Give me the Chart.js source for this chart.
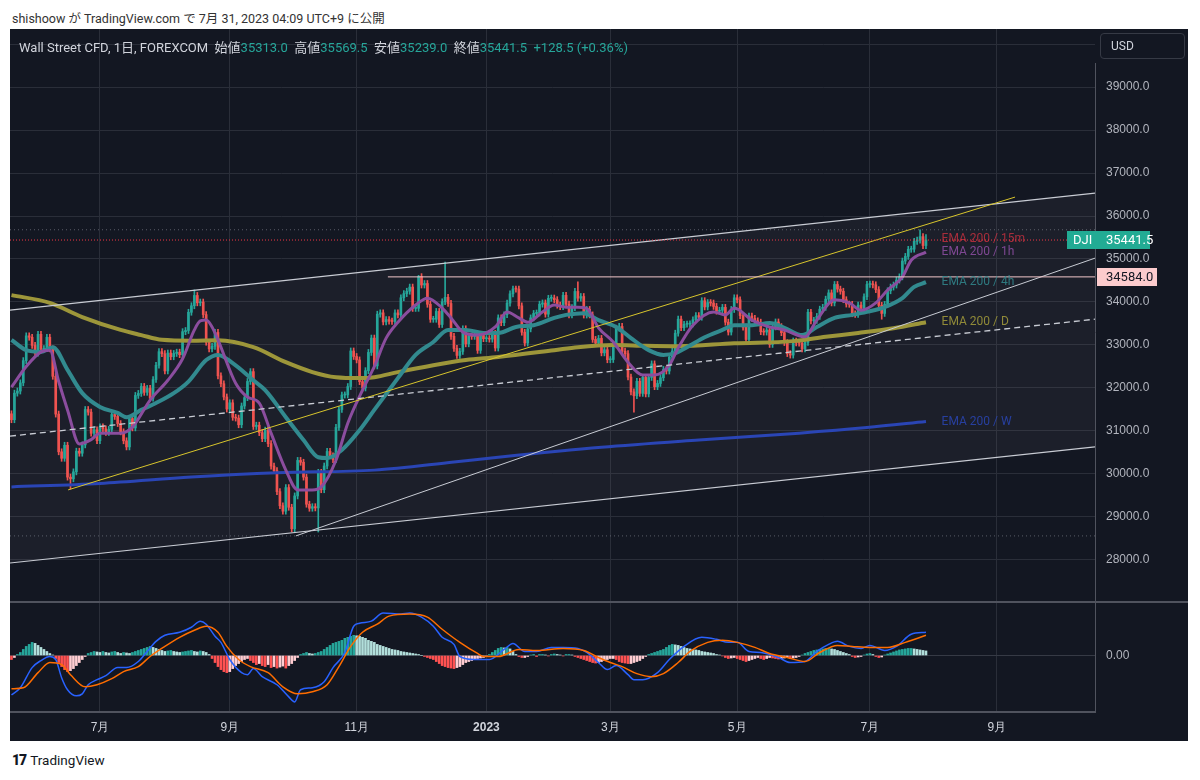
<!DOCTYPE html>
<html>
<head>
<meta charset="utf-8">
<script src="https://cdn.jsdelivr.net/npm/chart.js@4.4.0/dist/chart.umd.min.js"></script>
<style>
  html, body { margin: 0; padding: 0; background: #fff; width: 1200px; height: 780px; overflow: hidden;
    font-family: Roboto, "Noto Sans CJK JP", sans-serif; }
  #pub { position: absolute; left: 12px; top: 8px; font-size: 12.5px; color: #333; }
  #panel { position: absolute; left: 10px; top: 29px; width: 1178px; height: 712px; background: #131722; }
  #main { position: absolute; left: 0; top: 0; }
  #macd { position: absolute; left: 0; top: 573px; }
  #sep { position: absolute; left: 0; top: 572px; width: 1178px; height: 2px; background: #50535e; }
  #hdr { position: absolute; left: 9px; top: 8px; font-size: 13px; color: #d1d4dc; white-space: pre; }
  #hdr .v { color: #26a69a; }
  #usd { position: absolute; left: 1090px; top: 4px; width: 83px; height: 24px; border: 1px solid #363a45;
    border-radius: 4px; color: #d1d4dc; font-size: 12px; line-height: 24px; text-indent: 10px; }
  #foot { position: absolute; left: 12px; top: 752px; font-size: 13.5px; color: #131722; }
  #foot b { font-weight: 900; font-size: 14px; letter-spacing: -1px; margin-right: 4px; }
</style>
</head>
<body>
<div id="pub">shishoow が TradingView.com で 7月 31, 2023 04:09 UTC+9 に公開</div>
<div id="panel">
  <canvas id="main" width="1178" height="573"></canvas>
  <canvas id="macd" width="1178" height="139"></canvas>
  <div id="sep"></div>
  <div id="hdr"></div>
  <div id="usd">USD</div>
</div>
<div id="foot"><b>17</b>TradingView</div>
<script>
// ===== Datos =====
const monthTicks = [30, 74, 117, 161, 203, 246, 291, 334];
const monthLabels = ['7月', '9月', '11月', '2023', '3月', '5月', '7月', '9月'];
const priceTicks = [28000, 29000, 30000, 31000, 32000, 33000, 34000, 35000, 36000, 37000, 38000, 39000, 40000];

// cierres diarios (CFD), mayo 2022 -> julio 2023
const closesMay22 = [31262, 31880, 31929, 32120, 32637, 33213, 33180, 32990];
const closesJun22 = [32813, 33248, 32900, 32916, 33180, 32910, 32272, 31393, 30516, 30365, 30668, 29927, 29888, 30050, 30530, 30483, 30677, 31500, 31438, 30947, 31029, 30775];
const closesJul22 = [31097, 31050, 30967, 31037, 31384, 31338, 31173, 30981, 30772, 30630, 31288, 31072, 31827, 31874, 32036, 31899, 31990, 31762, 32197, 32529, 32845];
const closesAug22 = [32798, 32397, 32813, 32727, 32803, 32833, 32775, 33310, 33337, 33761, 33913, 34152, 33981, 33999, 33707, 33064, 32910, 32970, 33292, 32283, 32099, 31791, 31510];
const closesSep22 = [31656, 31318, 31300, 31145, 31581, 31775, 32152, 32381, 31105, 31135, 30962, 30822, 31020, 30706, 30184, 30077, 29590, 29261, 29135, 29684, 29226, 28726];
const closesOct22 = [29490, 30316, 30273, 29927, 29297, 29203, 29240, 29211, 30039, 29634, 30186, 30524, 30424, 30334, 31083, 31500, 31837, 31839, 32034, 32861, 32733];
const closesNov22 = [32653, 32148, 32001, 32403, 32827, 33161, 32514, 33716, 33748, 33537, 33593, 33554, 33547, 33746, 33700, 34098, 34195, 34250, 34347, 33850, 33853, 34590];
const closesDec22 = [34395, 34430, 33947, 33597, 33598, 33781, 33477, 34005, 34108, 33966, 33202, 32920, 32757, 32850, 33377, 33027, 33204, 33200, 33241, 32875, 33221, 33147];
const closesJan23 = [33150, 33136, 33270, 32930, 33631, 33518, 33704, 33974, 34190, 34303, 34300, 33910, 33297, 33045, 33375, 33630, 33734, 33744, 33949, 33978, 33717, 34086];
const closesFeb23 = [34092, 34054, 33926, 33891, 34156, 33949, 33699, 33869, 34246, 34089, 34128, 33697, 33827, 33700, 33130, 33045, 33154, 32817, 32889, 32657];
const closesMar23 = [32662, 33004, 33391, 33431, 32856, 32798, 32255, 31910, 31819, 32155, 31875, 32247, 31862, 32245, 32561, 32031, 32106, 32238, 32432, 32395, 32718, 32860, 33274];
const closesApr23 = [33601, 33402, 33482, 33485, 33490, 33587, 33684, 33646, 34030, 33886, 33987, 33976, 33897, 33786, 33808, 33875, 33531, 33301, 33826, 34098];
const closesMay23 = [34051, 33684, 33414, 33128, 33674, 33619, 33562, 33531, 33310, 33300, 33349, 33013, 33420, 33536, 33427, 33287, 33056, 32800, 32765, 33093, 33050, 33043, 32908];
const closesJun23 = [33061, 33762, 33562, 33573, 33665, 33833, 33876, 34066, 34212, 33979, 34408, 34299, 34250, 34053, 33952, 33946, 33727, 33714, 33927, 33852, 34122, 34408];
const closesJul23 = [34418, 34400, 34288, 33922, 33734, 33944, 34261, 34347, 34395, 34509, 34585, 34952, 35061, 35225, 35228, 35411, 35438, 35520, 35313.0, 35441.5];
const firstOpen = 31400;
// mechas destacadas [indice, maximo, minimo]
const wickSpikes = [[20, null, 29650], [62, 34280, null], [104, null, 28650], [138, 34620, null], [147, 34930, null],
  [192, 34470, null], [211, null, 31440], [295, null, 33600], [308, 35680, null], [310, 35569.5, 35239.0]];

// EMA 200 en varios marcos [indice, valor]
const ema1h = [[0,32020],[5,32500],[10,32840],[13,32880],[16,32150],[19,31490],[23,30700],[27,30800],[30,30950],[37,30950],[41,31090],[47,31720],[53,32180],[58,32680],[62,33350],[64,33560],[66,33580],[68,33420],[70,33120],[76,32110],[80,31790],[84,31650],[88,30950],[93,30090],[97,29630],[102,29630],[105,29700],[110,30320],[114,31180],[119,31950],[123,32500],[127,33160],[131,33530],[137,33930],[141,34090],[146,33860],[149,33630],[153,33300],[158,33230],[164,33420],[168,33770],[172,33630],[175,33530],[180,33770],[184,33930],[188,33880],[192,33880],[195,33850],[199,33400],[204,33070],[209,32600],[214,32300],[218,32300],[223,32530],[226,32930],[231,33460],[238,33770],[242,33700],[245,33860],[251,33580],[257,33420],[262,33350],[269,33190],[273,33580],[279,34050],[284,33980],[288,33810],[293,33980],[297,34280],[302,34580],[305,34970],[310,35160]];
const ema4h = [[0,33120],[5,32880],[10,32840],[14,32950],[19,32420],[24,31880],[30,31560],[36,31420],[39,31320],[44,31490],[49,31650],[55,31880],[60,32150],[66,32650],[70,32770],[75,32580],[82,32180],[86,31950],[93,31320],[99,30790],[104,30390],[107,30370],[112,30560],[118,31020],[123,31490],[131,32230],[137,32770],[143,33070],[148,33350],[154,33350],[160,33280],[165,33280],[171,33420],[177,33460],[184,33630],[188,33700],[194,33740],[199,33580],[205,33420],[210,33160],[216,32880],[221,32770],[225,32810],[229,32950],[235,33180],[241,33350],[245,33460],[251,33460],[257,33510],[262,33400],[268,33230],[273,33420],[279,33630],[285,33700],[290,33770],[296,33880],[302,34090],[306,34350],[310,34460]];
const emaD = [[0,34160],[13,33980],[24,33650],[37,33350],[44,33230],[51,33120],[61,33100],[70,33110],[82,32950],[93,32600],[102,32370],[110,32250],[118,32230],[123,32250],[131,32370],[143,32530],[154,32650],[165,32720],[184,32880],[192,32950],[204,33000],[215,32980],[226,32970],[245,33040],[265,33090],[276,33190],[287,33280],[299,33390],[310,33530]];
const emaW = [[0,29700],[30,29780],[61,29930],[90,30030],[123,30090],[150,30280],[165,30390],[200,30620],[233,30790],[267,30950],[290,31080],[310,31220]];

// lineas dibujadas [x1, precio1, x2, precio2]
const chanTop = [-0.5, 33810, 367.3, 36530];
const chanBot = [-0.5, 27930, 367.3, 30630];
const chanMid = [-0.5, 30880, 367.3, 33600];
const lineaAmarilla = [19.2, 29630, 340.2, 36440];
const lineaSoporte = [96.4, 28560, 367.3, 35020];
const nivel = [127.6, 34584.0];
const rangoAlto = 35680, rangoBajo = 28560;

// MACD [indice, valor]
const macdLine = [[0,-780],[3,-640],[7,-240],[10,-100],[13,-20],[15,-80],[17,-440],[19,-680],[22,-800],[24,-760],[26,-580],[29,-480],[32,-400],[36,-240],[39,-240],[43,-120],[46,80],[49,280],[52,400],[57,460],[61,560],[64,680],[66,620],[69,380],[71,260],[74,-80],[78,-340],[80,-380],[82,-260],[85,-420],[90,-580],[94,-820],[96,-920],[98,-680],[102,-640],[106,-520],[109,-240],[113,60],[116,580],[118,640],[122,680],[126,840],[132,820],[135,840],[139,760],[143,580],[146,360],[150,220],[152,-20],[157,-80],[162,-80],[167,120],[170,240],[174,80],[178,80],[183,160],[187,160],[192,140],[195,60],[199,-140],[202,-280],[205,-200],[209,-380],[211,-480],[214,-480],[219,-340],[223,-80],[228,180],[234,360],[239,320],[243,260],[246,260],[250,80],[254,60],[260,-40],[264,-140],[269,-120],[273,80],[277,220],[280,280],[284,180],[288,140],[291,200],[296,100],[300,180],[305,420],[310,460]];
const signalLine = [[0,-660],[4,-640],[9,-340],[13,-140],[17,-180],[20,-380],[25,-620],[29,-580],[34,-460],[38,-320],[43,-220],[47,-20],[52,180],[57,360],[62,500],[66,580],[70,460],[73,180],[77,-80],[81,-220],[87,-340],[92,-620],[97,-760],[102,-720],[107,-580],[111,-220],[115,180],[119,460],[124,620],[128,780],[135,820],[141,760],[146,520],[152,260],[158,40],[160,-20],[165,-20],[172,120],[178,100],[187,140],[194,100],[199,-40],[203,-140],[207,-220],[212,-360],[217,-420],[221,-360],[226,-140],[230,80],[236,260],[241,300],[246,260],[252,160],[257,40],[263,-40],[269,-120],[274,60],[280,200],[285,180],[291,160],[297,160],[303,260],[310,400]];
const histogram = [
  -80,-40,20,60,120,180,220,260,240,200,
  160,120,80,40,10,-60,-140,-220,-280,-320,
  -300,-260,-200,-140,-80,-20,40,60,80,70,
  60,80,60,50,70,80,60,40,60,50,
  40,60,80,100,120,140,160,180,160,140,
  120,100,80,90,100,80,70,60,70,80,
  90,100,80,70,90,80,60,20,-60,-140,
  -220,-280,-320,-340,-320,-260,-200,-160,-120,-80,
  -60,-100,-140,-180,-160,-200,-220,-180,-240,-220,
  -250,-230,-210,-250,-200,-160,-100,-40,20,40,
  60,40,30,40,60,80,120,160,200,240,
  260,280,300,340,360,380,400,390,380,360,
  340,300,280,260,220,200,180,160,140,120,
  110,100,80,70,60,50,40,30,20,0,
  -20,-40,-60,-80,-120,-160,-200,-220,-240,-250,
  -260,-240,-220,-180,-140,-120,-100,-80,-60,-50,
  -40,-20,20,60,100,140,160,150,160,130,
  80,20,-20,-40,-40,-20,10,20,-20,20,
  20,10,-10,20,30,20,10,-10,20,20,
  10,-20,-40,-60,-80,-100,-120,-140,-150,-140,
  -120,-100,-80,-60,-60,-80,-120,-140,-150,-160,
  -160,-140,-120,-100,-60,-20,20,40,60,80,
  100,120,160,200,220,210,200,180,160,140,
  130,120,110,100,80,70,60,50,40,20,
  10,-10,-40,-60,-50,-40,-60,-80,-100,-120,
  -100,-80,-60,-40,-60,-80,-60,-40,-50,-60,
  -70,-60,-50,-40,-60,-50,-40,-20,10,40,
  60,80,100,110,120,130,140,140,130,120,
  100,80,60,40,20,-20,-40,-30,-20,10,
  30,40,20,-20,-40,-30,10,30,50,70,
  90,110,120,130,140,140,130,120,110,100,90
];

// ===== Estilo / escalas =====
const xMin = -0.5, xMax = 367.3;
const yMin = 27023, yMax = 40349;
const macdMin = -1120, macdMax = 1060;
const gridColor = '#2a2e39';
const axisText = '#b2b5be';
const upColor = '#26a69a', downColor = '#ef5350';
const wickPad = 70;
const emaStyles = [
  { name: 'EMA 200 / W', data: emaW, color: '#2a45b5', label: 'rgba(42,69,181,0.85)', width: 3 },
  { name: 'EMA 200 / D', data: emaD, color: '#9d963a', label: 'rgba(157,150,58,0.9)', width: 4 },
  { name: 'EMA 200 / 4h', data: ema4h, color: '#328a8f', label: 'rgba(50,138,143,0.85)', width: 4 },
  { name: 'EMA 200 / 1h', data: ema1h, color: '#8b4d9e', label: 'rgba(139,77,158,0.9)', width: 3 }
];

const closes = [].concat(closesMay22, closesJun22, closesJul22, closesAug22, closesSep22, closesOct22, closesNov22,
  closesDec22, closesJan23, closesFeb23, closesMar23, closesApr23, closesMay23, closesJun23, closesJul23);
const opens = closes.map((c, i) => i === 0 ? firstOpen : closes[i - 1]);
const spikeMap = {};
wickSpikes.forEach(s => { spikeMap[s[0]] = s; });
const highs = closes.map((c, i) => (spikeMap[i] && spikeMap[i][1] != null) ? spikeMap[i][1] : Math.max(opens[i], c) + wickPad);
const lows = closes.map((c, i) => (spikeMap[i] && spikeMap[i][2] != null) ? spikeMap[i][2] : Math.min(opens[i], c) - wickPad);
const candleColors = closes.map((c, i) => c >= opens[i] ? upColor : downColor);
const lastIdx = closes.length - 1;
const lastClose = closes[lastIdx];

// cabecera
(function () {
  const chg = lastClose - closes[lastIdx - 1];
  const pct = chg / closes[lastIdx - 1] * 100;
  const f = v => v.toFixed(1);
  document.getElementById('hdr').innerHTML =
    `Wall Street CFD, 1日, FOREXCOM  始値<span class="v">${f(opens[lastIdx])}</span>  高値<span class="v">${f(highs[lastIdx])}</span>` +
    `  安値<span class="v">${f(lows[lastIdx])}</span>  終値<span class="v">${f(lastClose)}</span>` +
    `  <span class="v">+${f(chg)} (+${pct.toFixed(2)}%)</span>`;
})();

const seg = (a, extra) => Object.assign({
  type: 'line', data: [{ x: a[0], y: a[1] }, { x: a[2], y: a[3] }],
  pointRadius: 0, borderWidth: 1, fill: false
}, extra);
const hLine = (x1, y, extra) => seg([x1, y, xMax, y], extra);
const toXY = arr => arr.map(p => ({ x: p[0], y: p[1] }));

// sin relleno extra alrededor de las etiquetas
const noPad = s => { s.paddingTop = 0; s.paddingBottom = 0; s.paddingLeft = 0; s.paddingRight = 0; };

function xAxis(showLabels) {
  return {
    type: 'linear', min: xMin, max: xMax, offset: false,
    afterBuildTicks: s => { s.ticks = monthTicks.map(v => ({ value: v })); },
    afterFit: s => { s.height = showLabels ? 29 : 0; noPad(s); },
    grid: { color: gridColor, drawTicks: false, offset: false },
    border: showLabels ? { display: true, color: '#50535e', width: 2 } : { display: false },
    ticks: showLabels ? {
      display: true, padding: 8, color: '#d1d4dc', maxRotation: 0, autoSkip: false,
      callback: v => monthLabels[monthTicks.indexOf(v)],
      font: ctx => ({ size: 12, weight: (ctx.tick && monthLabels[monthTicks.indexOf(ctx.tick.value)] === '2023') ? 'bold' : 'normal' })
    } : { display: false }
  };
}

// ===== Grafico principal =====
const mainOverlay = {
  id: 'mainOverlay',
  afterDraw(chart) {
    const { ctx, chartArea: a, scales: { x, y } } = chart;
    ctx.save();
    // borde eje derecho
    ctx.strokeStyle = '#50535e'; ctx.lineWidth = 1;
    ctx.beginPath(); ctx.moveTo(a.right + 0.5, 34); ctx.lineTo(a.right + 0.5, a.bottom); ctx.stroke();
    // etiquetas EMA
    ctx.font = '12px Roboto, "Noto Sans CJK JP", sans-serif';
    ctx.textBaseline = 'middle'; ctx.textAlign = 'left';
    const lx = x.getPixelForValue(315.3);
    ctx.fillStyle = 'rgba(242,54,69,0.65)';
    ctx.fillText('EMA 200 / 15m', lx, y.getPixelForValue(lastClose) - 1);
    emaStyles.forEach(e => {
      ctx.fillStyle = e.label;
      ctx.fillText(e.name, lx, y.getPixelForValue(e.data[e.data.length - 1][1]));
    });
    // caja precio actual
    const py = Math.round(y.getPixelForValue(lastClose));
    ctx.fillStyle = '#22ab94';
    ctx.fillRect(a.right - 28, py - 9, 83, 18);
    ctx.fillStyle = '#fff'; ctx.font = '13px Roboto, sans-serif';
    ctx.fillText('DJI', a.right - 22, py + 1);
    ctx.fillText(lastClose.toFixed(1), a.right + 11, py + 1);
    // caja nivel horizontal
    const ny = Math.round(y.getPixelForValue(nivel[1]));
    ctx.fillStyle = '#fccbcd';
    ctx.fillRect(a.right + 2, ny - 9, 60, 18);
    ctx.fillStyle = '#131722';
    ctx.fillText(nivel[1].toFixed(1), a.right + 11, ny + 1);
    ctx.restore();
  }
};

const mainDatasets = [
  // relleno del canal
  seg(chanTop, { borderWidth: 0, fill: '+1', backgroundColor: 'rgba(120,123,134,0.09)', order: 40 }),
  seg(chanBot, { borderWidth: 0, order: 40 }),
  hLine(xMin, rangoAlto, { borderColor: 'rgba(120,123,134,0.7)', borderDash: [1, 3], order: 30 }),
  hLine(xMin, rangoBajo, { borderColor: 'rgba(120,123,134,0.7)', borderDash: [1, 3], order: 30 }),
  // velas
  {
    type: 'bar', order: 21, grouped: false, barThickness: 1,
    data: closes.map((c, i) => ({ x: i, y: [lows[i], highs[i]] })),
    backgroundColor: candleColors
  },
  {
    type: 'bar', order: 20, grouped: false, barThickness: 2, minBarLength: 1,
    data: closes.map((c, i) => ({ x: i, y: [opens[i], c] })),
    backgroundColor: candleColors
  }
];
emaStyles.forEach((e, k) => {
  mainDatasets.push({
    type: 'line', order: 15 - k, data: toXY(e.data), borderColor: e.color, borderWidth: e.width,
    pointRadius: 0, cubicInterpolationMode: 'monotone', fill: false
  });
});
mainDatasets.push(
  seg(chanTop, { borderColor: '#c9ccd4', borderWidth: 1.2, order: 5 }),
  seg(chanBot, { borderColor: '#c9ccd4', borderWidth: 1.2, order: 5 }),
  seg(chanMid, { borderColor: '#c9ccd4', borderWidth: 1.3, borderDash: [6, 4], order: 5 }),
  seg(lineaAmarilla, { borderColor: '#d8c52c', borderWidth: 1, order: 4 }),
  seg(lineaSoporte, { borderColor: '#c9ccd4', borderWidth: 1, order: 4 }),
  hLine(nivel[0], nivel[1], { borderColor: '#f3c7cb', borderWidth: 1, order: 3 }),
  hLine(xMin, lastClose, { borderColor: '#f23645', borderWidth: 1, borderDash: [1, 2], order: 2 })
);

new Chart(document.getElementById('main'), {
  type: 'bar',
  data: { datasets: mainDatasets },
  options: {
    responsive: false, animation: false, devicePixelRatio: 1,
    layout: { padding: 0, autoPadding: false },
    plugins: { legend: { display: false }, tooltip: { enabled: false } },
    scales: {
      x: xAxis(false),
      y: {
        type: 'linear', position: 'right', min: yMin, max: yMax,
        afterBuildTicks: s => { s.ticks = priceTicks.map(v => ({ value: v })); },
        afterFit: s => { s.width = 93; noPad(s); },
        grid: { color: gridColor, drawTicks: false },
        border: { display: false },
        ticks: { color: axisText, padding: 11, font: { size: 12 }, callback: v => v === 40000 ? '' : v.toFixed(1) }
      }
    }
  },
  plugins: [mainOverlay]
});

// ===== MACD =====
const histColors = histogram.map((h, i) => {
  const prev = i > 0 ? histogram[i - 1] : 0;
  if (h >= 0) return h >= prev ? '#26a69a' : '#b2dfdb';
  return h < prev ? '#ff5252' : '#ffcdd2';
});

new Chart(document.getElementById('macd'), {
  type: 'bar',
  data: {
    datasets: [
      { type: 'bar', order: 5, barThickness: 2, data: histogram.map((h, i) => ({ x: i, y: h })), backgroundColor: histColors },
      { type: 'line', order: 2, data: toXY(macdLine), borderColor: '#2962ff', borderWidth: 1.5, pointRadius: 0, cubicInterpolationMode: 'monotone' },
      { type: 'line', order: 1, data: toXY(signalLine), borderColor: '#ff6d00', borderWidth: 1.5, pointRadius: 0, cubicInterpolationMode: 'monotone' }
    ]
  },
  options: {
    responsive: false, animation: false, devicePixelRatio: 1,
    layout: { padding: 0, autoPadding: false },
    plugins: { legend: { display: false }, tooltip: { enabled: false } },
    scales: {
      x: xAxis(true),
      y: {
        type: 'linear', position: 'right', min: macdMin, max: macdMax,
        afterBuildTicks: s => { s.ticks = [{ value: 0 }]; },
        afterFit: s => { s.width = 93; noPad(s); },
        grid: { color: '#363a45', drawTicks: false },
        border: { display: true, color: '#50535e' },
        ticks: { color: axisText, padding: 11, font: { size: 12 }, callback: v => v.toFixed(2) }
      }
    }
  }
});
</script>
</body>
</html>
